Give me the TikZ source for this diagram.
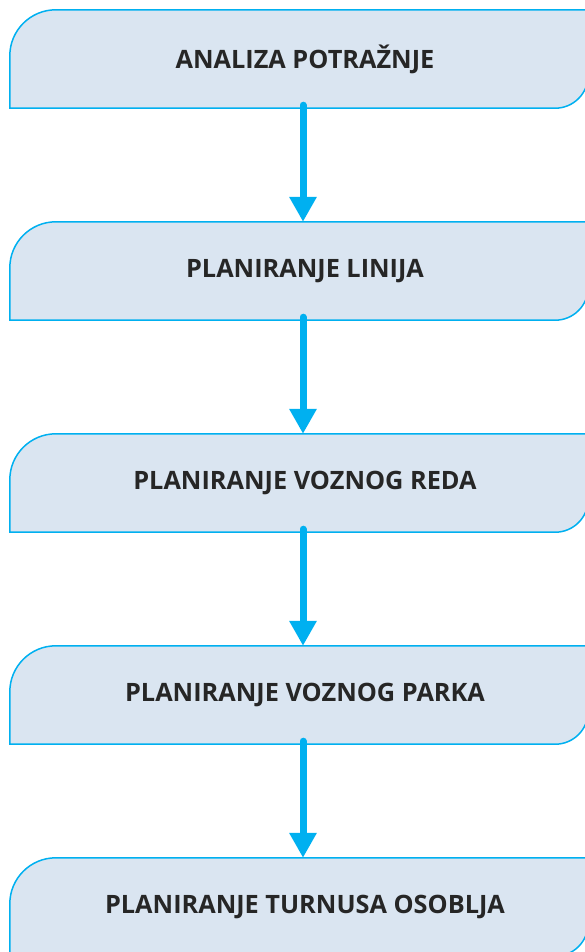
\documentclass[tikz,border=0pt]{standalone}
\usepackage{fontspec}
\setmainfont{Open Sans}
\usetikzlibrary{arrows.meta,backgrounds}
\definecolor{boxfill}{HTML}{DAE5F1}
\definecolor{boxline}{HTML}{00B0F0}
\definecolor{textgray}{HTML}{262626}
\tikzset{
	stepbox/.style={minimum width=578pt, minimum height=98pt, inner sep=0pt, font=\fontsize{25.3}{30}\selectfont\bfseries, text=textgray},
	stepline/.style={draw=boxline, fill=boxfill, line width=1.5pt},
	flow/.style={draw=boxline, line width=7pt, line cap=round, -{Triangle[width=26pt,length=25pt]}}
}
\begin{document}
\begin{tikzpicture}[x=1pt,y=1pt]
	\clip (0,0) rectangle (585,-952);
	\node [stepbox] (analiza) at (299,-59) {\hspace*{12pt}ANALIZA POTRAŽNJE};
	\node [stepbox] (linije) at (299,-271) {\hspace*{12pt}PLANIRANJE LINIJA};
	\node [stepbox] (red) at (299,-483) {\hspace*{12pt}PLANIRANJE VOZNOG REDA};
	\node [stepbox] (park) at (299,-695) {\hspace*{12pt}PLANIRANJE VOZNOG PARKA};
	\node [stepbox] (turnusi) at (299,-907) {\hspace*{12pt}PLANIRANJE TURNUSA OSOBLJA};
	% box outlines, round corner top left and bottom right
	\begin{scope}[on background layer]
	\foreach \n in {analiza,linije,red,park,turnusi}
		\draw [stepline] (\n.south west) -- ([yshift=-46pt]\n.north west) arc [start angle=180, end angle=90, radius=46pt] -- (\n.north east) -- ([yshift=33pt]\n.south east) arc [start angle=0, end angle=-90, radius=33pt] -- cycle;
	\end{scope}
	% arrows
	\draw [flow] ([xshift=4pt,yshift=3pt]analiza.south) -- ([xshift=4pt]linije.north);
	\draw [flow] ([xshift=4pt,yshift=3pt]linije.south) -- ([xshift=4pt]red.north);
	\draw [flow] ([xshift=4pt,yshift=3pt]red.south) -- ([xshift=4pt]park.north);
	\draw [flow] ([xshift=4pt,yshift=3pt]park.south) -- ([xshift=4pt]turnusi.north);
\end{tikzpicture}
\end{document}
